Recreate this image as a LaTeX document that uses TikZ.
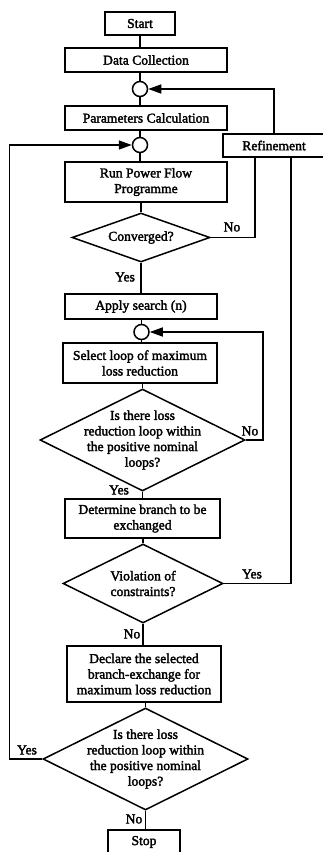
\documentclass[tikz,border=0pt]{standalone}
\usepackage{fontspec}
\setmainfont{Liberation Serif}
\newfontfamily\chartfont{Liberation Serif}[FakeBold=2.2]
\usepackage{tikz}
\usetikzlibrary{arrows.meta, shapes.geometric}
\tikzset{>={Triangle[length=13pt,width=9pt]}}
\tikzset{
	block/.style={draw, fill=white, align=center, inner sep=0pt},
	decision/.style={draw, diamond, fill=white, inner sep=0pt},
	junction/.style={draw, circle, fill=white, minimum size=15pt, inner sep=0pt},
	answer/.style={inner sep=0pt}
}

\begin{document}
\begin{tikzpicture}[line width=1.5pt, x=1pt, y=-1pt, font=\chartfont\fontsize{13.6}{15.6}\selectfont]
		\useasboundingbox (0,0) rectangle (322,852);
		\node[block, minimum width=70, minimum height=23] (start) at (140,23.5) {Start};
		\node[block, minimum width=162, minimum height=24] (dc) at (146,60) {Data Collection};
		\node[junction] (j1) at (140,89) {};
		\node[block, minimum width=162, minimum height=24] (pc) at (146,118) {Parameters Calculation};
		\node[junction] (j2) at (140,145) {};
		\node[block, minimum width=102, minimum height=23] (ref) at (274,145.5) {Refinement};
		\node[block, minimum width=162, minimum height=40] (rpf) at (146,182) {Run Power Flow\\Programme};
		\node[decision, minimum width=138, minimum height=49, label={center:Converged?}] (conv) at (141,237.5) {};
		\node[block, minimum width=152, minimum height=25] (apply) at (141,306.5) {Apply search (n)};
		\node[junction] (j3) at (141.5,332) {};
		\node[block, minimum width=154, minimum height=40] (sel) at (140,363) {Select loop of maximum\\loss reduction};
		\node[decision, minimum width=205, minimum height=102, label={[align=center]center:{Is there loss\\reduction loop within\\the positive nominal\\loops?}}] (d2) at (142.5,440) {};
		\node[block, minimum width=155, minimum height=39] (det) at (142.5,518.5) {Determine branch to be\\exchanged};
		\node[decision, minimum width=160, minimum height=79, label={[align=center]center:{Violation of\\constraints?}}] (viol) at (143,583.5) {};
		\node[block, minimum width=154, minimum height=56] (decl) at (144,674) {Declare the selected\\branch-exchange for\\maximum loss reduction};
		\node[decision, minimum width=205, minimum height=102, label={[align=center]center:{Is there loss\\reduction loop within\\the positive nominal\\loops?}}] (d4) at (145.5,759) {};
		\node[block, minimum width=72, minimum height=24] (stop) at (144,842) {Stop};

		\node[answer] (no1) at (232,227) {No};
		\node[answer] (yes1) at (125,277) {Yes};
		\node[answer] (no2) at (250,431) {No};
		\node[answer] (yes2) at (119,490) {Yes};
		\node[answer] (yes3) at (252,574) {Yes};
		\node[answer] (no3) at (132,634) {No};
		\node[answer] (yes4) at (27,750) {Yes};
		\node[answer] (no4) at (134,819) {No};

		\draw (start) -- (start |- dc.north);
		\draw (j1) -- (j1 |- dc.south); \draw (j1) -- (j1 |- pc.north);
		\draw (j2) -- (j2 |- pc.south); \draw (j2) -- (j2 |- rpf.north);
		\draw (conv) -- (conv |- rpf.south); \draw (conv) -- (conv |- apply.north);
		\draw (j3) -- (j3 |- apply.south); \draw (j3) -- (j3 |- sel.north);
		\draw (d2) -- (d2 |- sel.south); \draw (d2) -- (d2 |- det.north);
		\draw (viol) -- (viol |- det.south); \draw (viol) -- (viol |- decl.north);
		\draw (d4) -- (d4 |- decl.south); \draw (d4) -- (d4 |- stop.north);

		\draw [->](ref.north) |- (j1);
		\draw (conv.east) -| ([xshift=-19pt]ref.south);
		\draw (viol.east) -| ([xshift=17pt]ref.south);
		\draw [->](d2.east) -- ++(17,0) |- (j3);
		\draw [->](d4.west) -- ++(-33,0) |- (j2);
\end{tikzpicture}
\end{document}
